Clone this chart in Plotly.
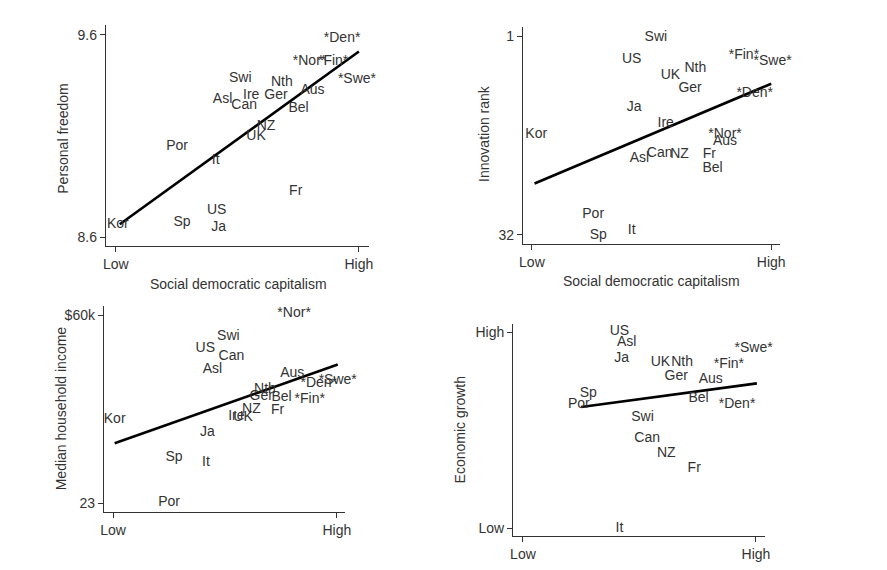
import plotly.graph_objects as go

# Panneau 1 : liberte personnelle
pf_lab = ["Kor", "Sp", "US", "Ja", "Por", "It", "Fr", "UK", "NZ", "Asl", "Can", "Ire",
          "Swi", "Ger", "Nth", "Bel", "Aus", "*Nor*", "*Fin*", "*Den*", "*Swe*"]
pf_x = [0.008, 0.272, 0.415, 0.423, 0.252, 0.411, 0.740, 0.577, 0.618, 0.439, 0.528, 0.557,
        0.512, 0.659, 0.683, 0.752, 0.809, 0.797, 0.894, 0.931, 0.992]
pf_y = [8.663, 8.673, 8.732, 8.649, 9.049, 8.980, 8.824, 9.098, 9.146, 9.278, 9.249, 9.302,
        9.385, 9.298, 9.366, 9.234, 9.322, 9.468, 9.468, 9.580, 9.380]
pf_fit_x = [0.016, 1.0]
pf_fit_y = [8.663, 9.517]

# Panneau 2 : rang d'innovation
inn_lab = ["Swi", "US", "Nth", "UK", "Ger", "*Fin*", "*Swe*", "*Den*", "Ja", "Ire", "Kor",
           "*Nor*", "Aus", "Asl", "Can", "NZ", "Fr", "Bel", "Por", "Sp", "It"]
inn_x = [0.518, 0.417, 0.683, 0.579, 0.661, 0.886, 1.006, 0.931, 0.427, 0.559, 0.018,
         0.807, 0.807, 0.449, 0.534, 0.617, 0.741, 0.755, 0.256, 0.277, 0.417]
inn_y = [1.15, 4.6, 6.0, 7.1, 9.1, 4.0, 5.0, 10.0, 12.1, 14.6, 16.4,
         16.3, 17.5, 20.1, 19.3, 19.5, 19.4, 21.6, 28.9, 32.1, 31.3]
inn_fit_x = [0.011, 1.0]
inn_fit_y = [24.0, 8.4]

# Panneau 3 : revenu median des menages (milliers de $)
inc_lab = ["*Nor*", "Swi", "US", "Can", "Asl", "Aus", "*Den*", "*Swe*", "Nth", "Ger", "Bel",
           "*Fin*", "NZ", "Fr", "Ire", "UK", "Kor", "Ja", "Sp", "It", "Por"]
inc_x = [0.809, 0.515, 0.412, 0.529, 0.444, 0.801, 0.919, 1.004, 0.679, 0.662, 0.753,
         0.879, 0.618, 0.735, 0.551, 0.581, 0.007, 0.422, 0.272, 0.415, 0.250]
inc_y = [60.4, 55.8, 53.5, 51.9, 49.3, 48.5, 46.6, 47.2, 45.3, 44.0, 43.7,
         43.4, 41.5, 41.3, 40.0, 39.8, 39.5, 37.0, 32.0, 31.1, 23.1]
inc_fit_x = [0.007, 1.004]
inc_fit_y = [34.8, 50.3]

# Panneau 4 : croissance economique
gr_lab = ["US", "Asl", "Ja", "UK", "Nth", "Ger", "*Fin*", "*Swe*", "Aus", "Bel", "*Den*",
          "Sp", "Por", "Swi", "Can", "NZ", "Fr", "It"]
gr_x = [0.414, 0.445, 0.424, 0.590, 0.683, 0.658, 0.884, 0.990, 0.806, 0.754, 0.919,
        0.280, 0.240, 0.513, 0.533, 0.615, 0.735, 0.414]
gr_y = [1.005, 0.950, 0.869, 0.849, 0.849, 0.777, 0.837, 0.916, 0.760, 0.664, 0.630,
        0.686, 0.634, 0.566, 0.457, 0.382, 0.306, 0.0]
gr_fit_x = [0.250, 1.004]
gr_fit_y = [0.619, 0.740]

# La page ajoute une marge de 8 px autour de la figure
OFF = 8
W, H = 887 - 2 * OFF, 570 - 2 * OFF
txt_col = "#333333"
font_fam = "Liberation Sans, Arial, sans-serif"

fig = go.Figure()

panels = [
    ("x", "y", pf_lab, pf_x, pf_y, pf_fit_x, pf_fit_y),
    ("x2", "y2", inn_lab, inn_x, inn_y, inn_fit_x, inn_fit_y),
    ("x3", "y3", inc_lab, inc_x, inc_y, inc_fit_x, inc_fit_y),
    ("x4", "y4", gr_lab, gr_x, gr_y, gr_fit_x, gr_fit_y),
]
for xa, ya, lab, xs, ys, fx, fy in panels:
    fig.add_trace(go.Scatter(x=fx, y=fy, mode="lines", line=dict(color="black", width=2.6),
                             xaxis=xa, yaxis=ya, showlegend=False, hoverinfo="skip"))
    fig.add_trace(go.Scatter(x=xs, y=ys, text=lab, mode="text", textposition="middle center",
                             textfont=dict(size=14, color=txt_col, family=font_fam),
                             cliponaxis=False,
                             xaxis=xa, yaxis=ya, showlegend=False, hoverinfo="skip"))

# Domaines en pixels (de la capture) -> papier
def dom_x(a, b):
    return [(a - OFF) / W, (b - OFF) / W]

def dom_y(top, bottom):
    return [1 - (bottom - OFF) / H, 1 - (top - OFF) / H]

axis_style = dict(showline=True, linecolor="#333333", linewidth=1.3, ticks="outside",
                  ticklen=5, tickcolor="#333333", showgrid=False, zeroline=False,
                  tickfont=dict(size=14, color=txt_col, family=font_fam))

low_high = dict(tickvals=[0, 1], ticktext=["Low", "High"])

fig.update_layout(
    width=W, height=H,
    margin=dict(l=0, r=0, t=0, b=0),
    paper_bgcolor="white", plot_bgcolor="white",
    xaxis=dict(domain=dom_x(103, 369), range=[-0.041, 1.041], anchor="y", **low_high, **axis_style),
    yaxis=dict(domain=dom_y(25, 249), range=[8.556, 9.649], anchor="x",
               tickvals=[8.6, 9.6], ticktext=["8.6", "9.6"], **axis_style),
    xaxis2=dict(domain=dom_x(525, 785), range=[-0.037, 1.037], anchor="y2", **low_high, **axis_style),
    yaxis2=dict(domain=dom_y(27, 247), range=[33.45, -0.5], anchor="x2",
                tickvals=[1, 32], ticktext=["1", "32"], **axis_style),
    xaxis3=dict(domain=dom_x(101, 345), range=[-0.041, 1.037], anchor="y3", **low_high, **axis_style),
    yaxis3=dict(domain=dom_y(310, 518), range=[21.39, 61.74], anchor="x3",
                tickvals=[23, 60], ticktext=["23", "$60k"], **axis_style),
    xaxis4=dict(domain=dom_x(515, 770), range=[-0.042, 1.040], anchor="y4", **low_high, **axis_style),
    yaxis4=dict(domain=dom_y(328, 543), range=[-0.042, 1.044], anchor="x4",
                tickvals=[0, 1], ticktext=["Low", "High"], **axis_style),
)

# Titres des axes
titles = [
    ("Personal freedom", 60, 140, -90),
    ("Innovation rank", 486, 135, -90),
    ("Median household income", 57, 413, -90),
    ("Economic growth", 461, 435, -90),
    ("Social democratic capitalism", 237, 288, 0),
    ("Social democratic capitalism", 655, 284, 0),
]
for t, px, py, ang in titles:
    fig.add_annotation(text=t, x=(px - OFF) / W, y=1 - (py - OFF) / H, xref="paper", yref="paper",
                       showarrow=False, textangle=ang, xanchor="center", yanchor="middle",
                       font=dict(size=14, color=txt_col, family=font_fam))

fig.write_html("out.html")
